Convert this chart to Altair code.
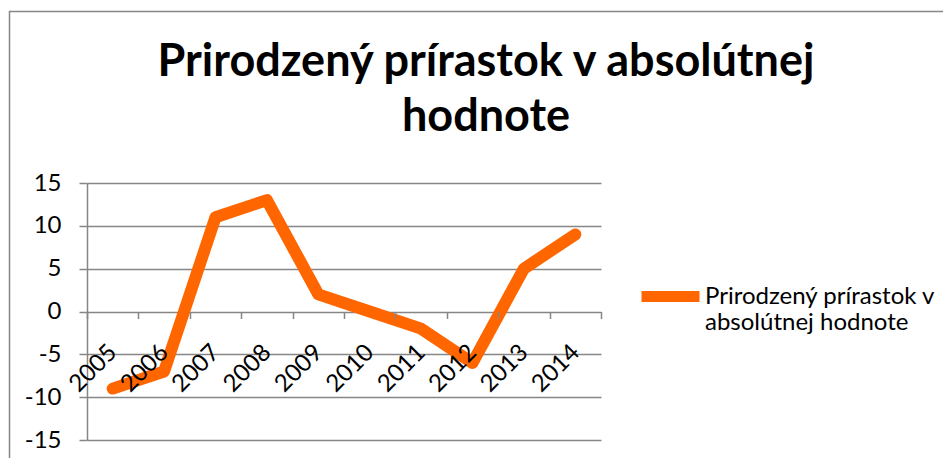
import altair as alt
import pandas as pd

# ---- data ----
years = ["2005", "2006", "2007", "2008", "2009", "2010", "2011", "2012", "2013", "2014"]
values = [-9, -7, 11, 13, 2, 0, -2, -6, 5, 9]
series_name = "Prirodzený prírastok v absolútnej hodnote"
title_lines = ["Prirodzený prírastok v absolútnej", "hodnote"]
y_ticks = [-15, -10, -5, 0, 5, 10, 15]

W, H = 514, 257
GRAY = "#868686"
ORANGE = "#ff6600"
FONT = "Lato"

df = pd.DataFrame({"year": years, "value": values, "series": [series_name] * len(years)})

frame = alt.Chart(pd.DataFrame({"a": [0]})).mark_rect(
    fill="transparent", stroke=GRAY, strokeWidth=1.5
).encode(
    x=alt.value(-77.5), x2=alt.value(W + 400), y=alt.value(-171.5), y2=alt.value(H + 200)
)

line = alt.Chart(df).mark_line(
    strokeWidth=12, strokeCap="round", strokeJoin="round"
).encode(
    x=alt.X(
        "year:O",
        bandPosition=0.5,
        scale=alt.Scale(type="band", paddingInner=0, paddingOuter=0),
        axis=alt.Axis(
            title=None, labelAngle=-45, labelAlign="right", labelBaseline="middle",
            offset=-H / 2, tickBand="extent", tickSize=7, tickColor=GRAY, tickWidth=1.5,
            domain=False, grid=False, labelPadding=30, zindex=1,
            labelFont=FONT, labelFontSize=24, labelColor="#000000",
        ),
    ),
    y=alt.Y(
        "value:Q",
        scale=alt.Scale(domain=[-15, 15], nice=False, zero=False),
        axis=alt.Axis(
            title=None, values=y_ticks, tickSize=8, tickColor=GRAY, tickWidth=1.5,
            domainColor=GRAY, domainWidth=1.5, grid=True, gridColor=GRAY, gridWidth=1.5,
            labelPadding=18, labelFont=FONT, labelFontSize=24, labelColor="#000000",
            labelExpr="datum.value + ''",
        ),
    ),
    color=alt.Color(
        "series:N",
        scale=alt.Scale(range=[ORANGE]),
        legend=alt.Legend(
            title=None, orient="none", legendX=549, legendY=79,
            symbolType="stroke", symbolStrokeWidth=11, symbolSize=3364,
            labelFont=FONT, labelFontSize=24, labelColor="#000000", labelLimit=500,
            labelOffset=0, padding=0,
            labelExpr="[slice(datum.label, 0, 22), slice(datum.label, 23)]",
        ),
    ),
)

chart = alt.layer(frame, line).properties(
    width=W,
    height=H,
    autosize=alt.AutoSizeParams(type="none"),
    padding={"left": 79, "top": 175, "right": 342, "bottom": 18},
    title=alt.TitleParams(
        text=title_lines, font=FONT, fontSize=45, fontWeight="bold", color="#000000",
        lineHeight=55, anchor="middle", dx=142, offset=-129,
    ),
).configure_view(stroke="transparent")

chart.save("out.html", embed_options={"renderer": "svg", "actions": False})
